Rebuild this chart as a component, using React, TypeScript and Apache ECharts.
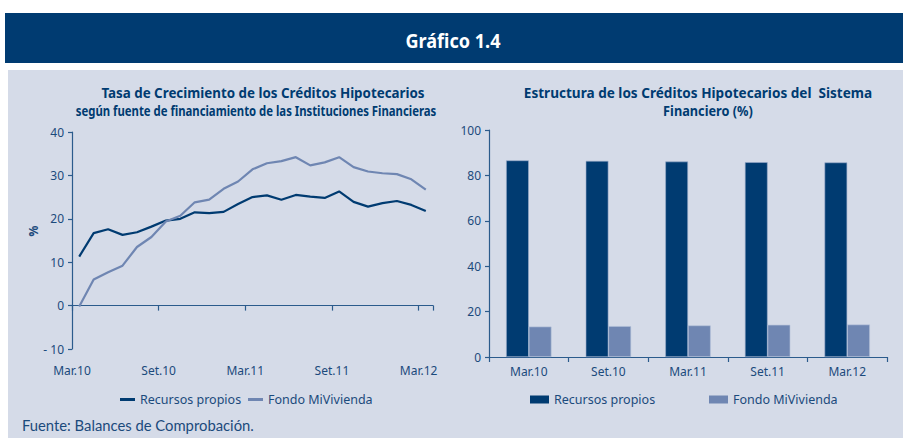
import React, { useEffect, useRef } from "react";
import * as echarts from "echarts";

const months = [
  "Mar.10", "Abr.10", "May.10", "Jun.10", "Jul.10", "Ago.10", "Set.10", "Oct.10", "Nov.10", "Dic.10", "Ene.11", "Feb.11",
  "Mar.11", "Abr.11", "May.11", "Jun.11", "Jul.11", "Ago.11", "Set.11", "Oct.11", "Nov.11", "Dic.11", "Ene.12", "Feb.12", "Mar.12",
];
const recursosGrowth = [11.3, 16.7, 17.6, 16.3, 16.9, 18.2, 19.6, 20.0, 21.5, 21.3, 21.6, 23.4, 25.0, 25.4, 24.4, 25.5, 25.1, 24.8, 26.3, 23.9, 22.8, 23.6, 24.1, 23.2, 21.8];
const fondoGrowth = [-0.2, 6.0, 7.7, 9.2, 13.5, 15.8, 19.4, 20.7, 23.8, 24.4, 26.9, 28.6, 31.4, 32.8, 33.3, 34.2, 32.3, 33.0, 34.2, 31.9, 30.9, 30.5, 30.3, 29.1, 26.7];
const lineTickLabels = ["Mar.10", "Set.10", "Mar.11", "Set.11", "Mar.12"];

const barCategories = ["Mar.10", "Set.10", "Mar.11", "Set.11", "Mar.12"];
const recursosShare = [86.6, 86.4, 86.1, 85.8, 85.7];
const fondoShare = [13.4, 13.6, 13.9, 14.2, 14.3];

const FAM = '"Noto Sans", "DejaVu Sans", sans-serif';
const DARK = "#003b71";
const LIGHT = "#6f86b2";
const TXT = "#1b4a7c";
const AXIS = "#2b5b8c";

export default function App() {
  const ref = useRef<HTMLDivElement>(null);
  useEffect(() => {
    if (!ref.current) return;
    const chart = echarts.init(ref.current, null, { renderer: "svg" });
    const axisLine = { show: true, lineStyle: { color: AXIS, width: 1.2 } };
    const tick = { show: true, length: 5, lineStyle: { color: AXIS, width: 1.2 } };
    const lbl = { color: TXT, fontFamily: FAM, fontSize: 12 };
    const titleFont = `bold 14px ${FAM}`;
    const title = (text: string, x: number, y: number, sx: number) => ({
      type: "text", x, y, scaleX: sx,
      style: { text, fill: DARK, font: titleFont, textAlign: "center", textVerticalAlign: "middle" },
    });
    const legendBase = { padding: 0, selectedMode: false, textStyle: { ...lbl, fontSize: 12.5 } };
    chart.setOption({
      animation: false,
      backgroundColor: "#ffffff",
      graphic: [
        { type: "rect", shape: { x: 5, y: 13, width: 898, height: 50 }, style: { fill: "#003b71" }, z: -10 },
        { type: "rect", shape: { x: 8, y: 70, width: 895, height: 368 }, style: { fill: "#d5dbe8" }, z: -10 },
        { type: "text", x: 453, y: 40, scaleX: 0.95, style: { text: "Gráfico 1.4", fill: "#ffffff", font: `bold 19px ${FAM}`, textAlign: "center", textVerticalAlign: "middle" } },
        title("Tasa de Crecimiento de los Créditos Hipotecarios", 263, 92, 0.955),
        title("según fuente de financiamiento de las Instituciones Financieras", 256, 111, 0.81),
        title("Estructura de los Créditos Hipotecarios del  Sistema", 698, 92, 0.97),
        title("Financiero (%)", 708, 111, 0.91),
        { type: "text", x: 33, y: 231, rotation: Math.PI / 2, style: { text: "%", fill: TXT, font: `bold 12px ${FAM}`, textAlign: "center", textVerticalAlign: "middle" } },
        { type: "text", x: 22, y: 425, style: { text: "Fuente: Balances de Comprobación.", fill: TXT, font: `14.8px Lato, "Open Sans", sans-serif`, textAlign: "left", textVerticalAlign: "middle" } },
      ],
      grid: [
        { left: 72, top: 132, width: 361, height: 217, containLabel: false },
        { left: 489, top: 130, width: 398, height: 227, containLabel: false },
      ],
      xAxis: [
        {
          type: "category", gridIndex: 0, data: months, boundaryGap: true,
          axisLine: { ...axisLine, onZero: true }, axisTick: { ...tick, interval: 5 }, axisLabel: { show: false }, splitLine: { show: false },
        },
        {
          type: "value", gridIndex: 0, min: 0, max: 25, interval: 6, position: "bottom",
          axisLine: { show: false, onZero: false }, axisTick: { show: false }, splitLine: { show: false },
          axisLabel: { ...lbl, margin: 15, showMaxLabel: false, formatter: (v: number) => (v % 6 === 0 && lineTickLabels[v / 6]) || "" },
        },
        {
          type: "category", gridIndex: 1, data: barCategories, boundaryGap: true,
          axisLine, axisTick: { ...tick, alignWithLabel: false }, axisLabel: { ...lbl, margin: 8 }, splitLine: { show: false },
        },
      ],
      yAxis: [
        {
          type: "value", gridIndex: 0, min: -10, max: 40, interval: 10,
          axisLine, axisTick: { ...tick, length: 4 }, splitLine: { show: false },
          axisLabel: { ...lbl, margin: 8, formatter: (v: number) => (v < 0 ? "- " + Math.abs(v) : String(v)) },
        },
        {
          type: "value", gridIndex: 1, min: 0, max: 100, interval: 20,
          axisLine, axisTick: { ...tick, length: 4 }, splitLine: { show: false },
          axisLabel: { ...lbl, margin: 8 },
        },
      ],
      legend: [
        { ...legendBase, left: 120, top: 393, itemWidth: 15, itemHeight: 3, data: [{ name: "Recursos propios", icon: "rect" }] },
        { ...legendBase, left: 248, top: 393, itemWidth: 15, itemHeight: 3, data: [{ name: "Fondo MiVivienda", icon: "rect" }] },
        { ...legendBase, left: 530, top: 393, itemWidth: 19, itemHeight: 8, data: [{ name: "Recursos propios", icon: "rect" }] },
        { ...legendBase, left: 709, top: 393, itemWidth: 19, itemHeight: 8, data: [{ name: "Fondo MiVivienda", icon: "rect" }] },
      ],
      series: [
        { type: "line", name: "Recursos propios", xAxisIndex: 0, yAxisIndex: 0, data: recursosGrowth, color: DARK, symbol: "none", lineStyle: { color: DARK, width: 2.2 } },
        { type: "line", name: "Fondo MiVivienda", xAxisIndex: 0, yAxisIndex: 0, data: fondoGrowth, color: LIGHT, symbol: "none", lineStyle: { color: LIGHT, width: 2.2 } },
        { type: "bar", name: "Recursos propios", xAxisIndex: 2, yAxisIndex: 1, data: recursosShare, barGap: "0%", barCategoryGap: "43%", itemStyle: { color: DARK, borderColor: "#9aaccb", borderWidth: 0.6 } },
        { type: "bar", name: "Fondo MiVivienda", xAxisIndex: 2, yAxisIndex: 1, data: fondoShare, barGap: "0%", barCategoryGap: "43%", itemStyle: { color: LIGHT, borderColor: "#b5c2da", borderWidth: 0.6 } },
      ],
    });
    return () => chart.dispose();
  }, []);
  return <div ref={ref} style={{ position: "absolute", left: 0, top: 0, width: 903, height: 438 }} />;
}
